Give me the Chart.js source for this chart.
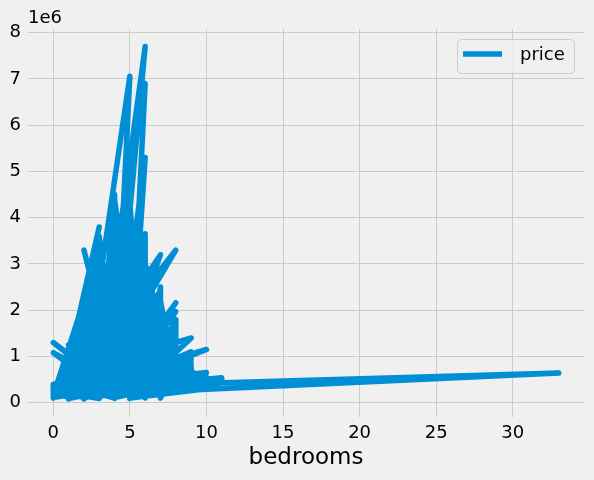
<!DOCTYPE html>
<html>
<head>
<meta charset="utf-8">
<script src="https://cdn.jsdelivr.net/npm/chart.js@4.4.1/dist/chart.umd.min.js"></script>
<style>
  html, body { margin: 0; padding: 0; background: #f0f0f0; }
  canvas { display: block; }
</style>
</head>
<body>
<canvas id="priceChart" width="594" height="480"></canvas>
<script>
// bedrooms / price (in $1000) pairs, in row order - the line is drawn in that order, like df.plot
const bedrooms = [
    3,3,2,4,3,4,3,2,3,3, 4,2,3,3,5,2,4,4,2,3, 2,4,3,5,3,2,3,4,3,4, 5,3,4,2,5,3,4,4,5,3,
    4,1,3,1,2,4,3,2,5,4, 4,3,5,3,2,4,5,1,3,1, 4,1,3,5,6,4,5,3,6,4, 5,2,5,4,5,3,6,5,5,4,
    6,5,4,6,6,5,4,6,6,4, 7,2,8,3,5,7,7,4,8,4, 6,5,7,4,8,5,8,3,6,5, 9,4,7,2,10,5,9,3,10,4,
    11,3,8,2,7,1,6,2,0,4, 2,0,4,3,1,2,0,2,0,1,0, 3,33,10,3,9,4,8,2,7,4, 6,3,6,2,5,1,4,1,3,2,
    4,2,5,3,6,2,7,3,8,4, 9,5,11,6,10,4,6,2,5,3, 4,1,3,2,5,6,7,5,8,4, 7,3,6,3,5,4,3,2,4,3,
    5,4,4,2,3,1,2,0,1,3,
    2,3,2,3,2,3,2,3,2,3, 2,4,3,4,3,5,4,3,4,5, 4,6,5,4,5,6,5,7,6,5, 6,7,6,8,7,5,7,6,8,6,
    7,6,5,4,4,3,4,2,3,1, 2,3,3,4,5,3,4,6,5,8, 6,9,5,9,6,10,7,8,5,9, 4,7,2,6,1,5,0,4,1,3,
    1,2,1,2,2,3,3,4,2,4, 3,5,4,5,6,6,7,7,8,8, 6,6,5,4,4,5,3,3,4,5, 7,8,10,9,3,1,2,0,2,1,
    4,2,5,3,7,4,6,3,5,2, 4,3,4,5,6,5,5,4,5,3, 0,1,0,2,0,1,0,1,3,11, 4,10,5,9,3,8,2,7,1,6,
    2,5,1,4,2,3,1,2,3,4,
    1,3,0,2,1,3,0,2,1,3,0,1,2,0,3,1,2,0,3,1,
    3,1,2,1,3,2,2,1,3,1,2,3,2,1,3,
    4,4,3,3,5,4,3,4,5,3,5,4,4,5,5,3,4,5,3,
    6,5,7,6,5,6,7,5,6,6,5,7,5,6,4,7,5,6,7,5,6,7,5,6,7,4,6,
    8,5,9,6,9,4,9,7,8,5,9,6,11,4,8,5,8,3,
    5,6,5,6,5,6,5,6,5,6,5,7,6,5,6,5,6,5,7,6,7,6,8,6,7,6,8,7,6,7,5,6,7,5,8,6,
    1,2,1,2,1,2,1,3,1,2,1,2,0,2,1,3,1,2,1,3,
    4,3,4,3,4,3,5,3,4,4,3,4,5,4,5,
    5,6,5,6,5,6,5,6,5,6,5,6
];
const price = [
    222,538,180,604,510,1225,258,292,1100,323, 663,468,1800,400,530,650,2400,485,189,2700, 385,2000,285,252,3100,233,937,2900,439,720, 3200,350,3500,420,2600,150,3900,200,4100,310,
    2800,300,1600,180,1200,260,2200,120,3800,90, 4500,300,3400,2000,3300,700,2900,900,3800,850, 1900,80,1400,200,2700,310,4400,450,7700,600, 2300,300,7060,400,3100,500,6900,350,5500,250,
    5300,300,3300,180,3650,420,2500,300,3220,400, 3200,750,3300,500,1800,400,2440,350,2160,150, 1600,90,1940,280,1970,480,1650,700,2100,150, 1400,900,1200,90,1150,650,930,400,650,320,
    540,250,900,400,800,350,1100,800,1300,260, 720,1080,100,190,1250,720,380,260,140,700,300, 180,640,420,330,600,200,700,330,1500,130, 1300,900,950,810,1500,500,1000,250,1300,1000,
    1500,550,1200,120,600,750,1000,200,500,800, 450,350,500,400,550,110,800,600,2000,380, 1700,400,2000,1400,900,130,600,100,1200,700, 1800,350,2400,1000,2600,230,2500,260,3000,420,
    3600,180,2200,500,1500,600,900,200,120,560,
    150,2400,300,1900,100,2900,250,1500,1700,120, 1300,100,3000,150,3400,200,3700,250,3200,150, 4000,400,3300,120,3900,250,2800,300,2900,180, 2000,150,3000,400,2200,250,1700,200,1400,500,
    2500,100,4300,180,3600,90,2700,110,2300,200, 1800,100,2600,90,2400,150,3100,150,1700,300, 1800,400,1400,800,700,350,900,1100,500,1100, 400,1400,200,1500,100,1100,250,1300,300,1700,
    900,1500,700,2000,90,3300,100,2600,140,2300, 170,3000,110,2500,120,2300,250,2000,250,1800, 300,2600,130,3400,140,3500,200,2800,240,1900, 100,800,300,700,600,450,800,120,1100,550,
    600,350,800,250,700,270,1700,130,2200,180, 1800,110,2100,160,3300,600,3700,300,4000,400, 350,600,200,500,150,450,100,800,300,450, 200,300,100,300,150,350,120,500,90,900,
    80,1300,150,950,700,1200,400,1600,90,1600,
    120,550,180,620,90,700,330,150,500,90,260,650,100,400,350,200,450,110,280,380,
    3500,650,2300,400,3200,900,2350,850,2500,300,2100,400,1900,550,3000,
    150,4200,500,2600,600,3800,900,2900,3200,1300,3600,700,3300,1000,4200,800,4400,2000,3100,
    200,2700,350,2800,400,2400,800,2500,600,2700,1500,1900,700,3100,1200,2300,300,1900,500,3000,800,1600,1200,2200,1100,2300,400,
    1300,200,1000,450,750,350,600,200,1000,700,850,300,300,500,1200,400,600,300,
    200,1500,2200,350,1800,2500,900,1200,3200,700,600,1300,1000,2600,1600,100,2100,1300,600,1400,300,2000,700,900,1500,500,900,1700,300,1000,1600,2600,1200,500,1500,150,
    300,1400,200,1000,600,1700,150,1800,500,600,800,1200,160,2200,350,2100,700,1300,250,1100,
    1400,2400,500,3600,850,2000,1100,2700,1000,3900,700,2400,400,4300,800,
    1000,2800,1400,2300,1900,1100,2400,1700,2900,2000,3400,2500
];

const xTicks = [0, 5, 10, 15, 20, 25, 30];
const yTicks = [0, 1, 2, 3, 4, 5, 6, 7, 8];
const seriesName = 'price';
const xLabel = 'bedrooms';

const points = bedrooms.map((b, i) => ({ x: b, y: price[i] * 1000 }));
const lineColor = '#008fd5';
const fontFamily = '"DejaVu Sans", sans-serif';

const extrasPlugin = {
    id: 'extras',
    afterDraw(chart) {
        const c = chart.ctx;
        c.save();
        // offset text above the y axis
        c.fillStyle = '#000';
        c.font = '18px ' + fontFamily;
        c.textAlign = 'left';
        c.textBaseline = 'middle';
        c.fillText('1e6', 28, 18);
        // legend box, top right inside the axes
        c.beginPath();
        c.roundRect(457.5, 39.5, 117, 34, 4);
        c.fillStyle = 'rgba(240,240,240,0.8)';
        c.fill();
        c.strokeStyle = '#cccccc';
        c.lineWidth = 1;
        c.stroke();
        c.beginPath();
        c.moveTo(463, 54);
        c.lineTo(502, 54);
        c.strokeStyle = lineColor;
        c.lineWidth = 5.5;
        c.stroke();
        c.fillStyle = '#000';
        c.fillText(seriesName, 520, 55);
        c.restore();
    }
};

new Chart(document.getElementById('priceChart'), {
    type: 'line',
    data: {
        datasets: [{
            label: seriesName,
            data: points,
            borderColor: lineColor,
            borderWidth: 5.5,
            borderJoinStyle: 'round',
            borderCapStyle: 'round',
            pointRadius: 0,
            tension: 0,
            fill: false
        }]
    },
    options: {
        responsive: false,
        animation: false,
        devicePixelRatio: 1,
        layout: { padding: { top: 29, right: 10, left: 0, bottom: 0 } },
        plugins: {
            legend: { display: false },
            tooltip: { enabled: false }
        },
        scales: {
            x: {
                type: 'linear',
                min: -1.65,
                max: 34.65,
                afterBuildTicks: s => { s.ticks = xTicks.map(v => ({ value: v })); },
                afterFit: s => { s.height = 63; },
                grid: { color: '#cbcbcb', lineWidth: 1, drawTicks: false },
                border: { display: false },
                ticks: {
                    color: '#000',
                    font: { family: fontFamily, size: 18 },
                    padding: 6,
                    maxRotation: 0
                },
                title: {
                    display: true,
                    text: xLabel,
                    color: '#000',
                    font: { family: fontFamily, size: 23 },
                    padding: { top: 0, bottom: 8 }
                }
            },
            y: {
                type: 'linear',
                min: -0.31e6,
                max: 8.08e6,
                afterBuildTicks: s => { s.ticks = yTicks.map(v => ({ value: v * 1e6 })); },
                afterFit: s => { s.width = 28; },
                grid: { color: '#cbcbcb', lineWidth: 1, drawTicks: false },
                border: { display: false },
                ticks: {
                    color: '#000',
                    font: { family: fontFamily, size: 18 },
                    padding: 7,
                    callback: v => String(v / 1e6)
                }
            }
        }
    },
    plugins: [extrasPlugin]
});
</script>
</body>
</html>
